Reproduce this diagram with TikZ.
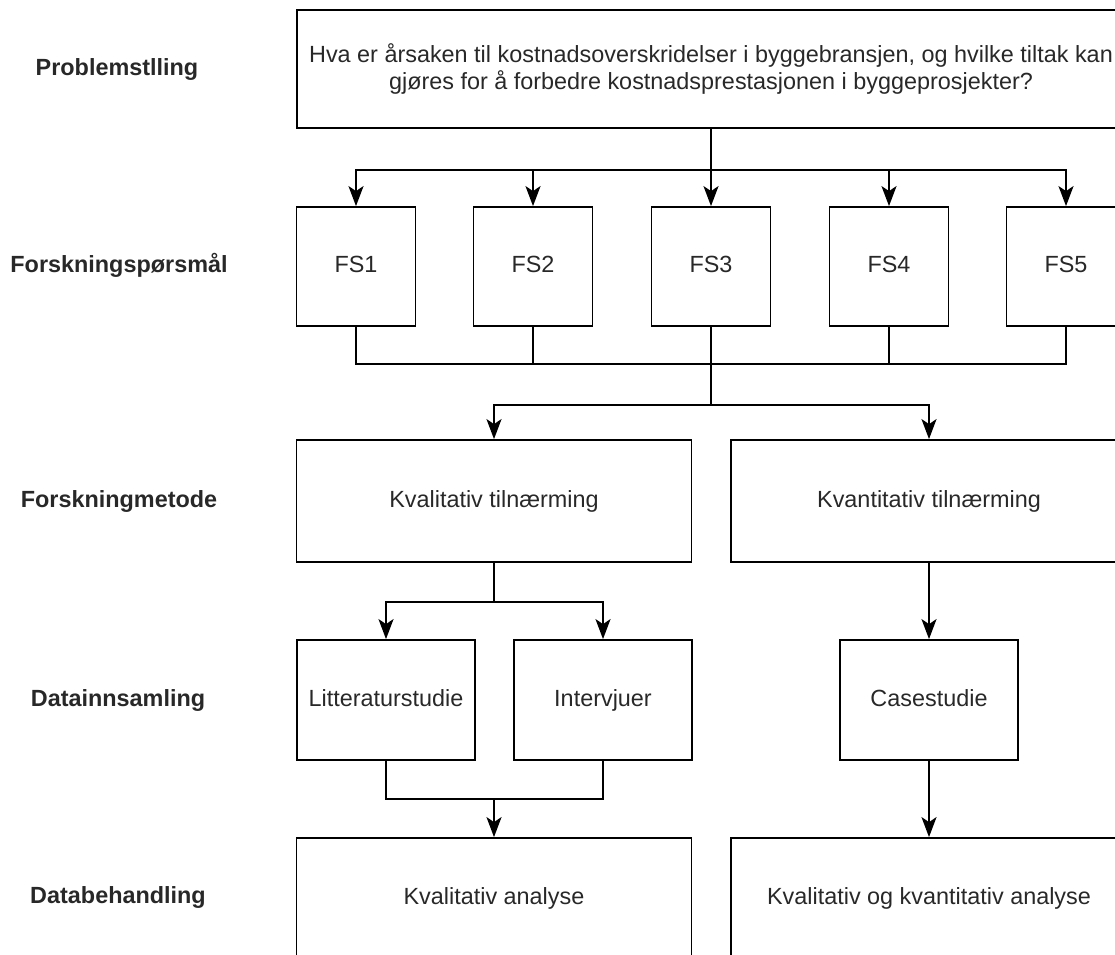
\documentclass[tikz,border=0pt]{standalone}
\usepackage{fontspec}
\setmainfont{Liberation Sans}
\usetikzlibrary{arrows.meta}
\definecolor{txt}{RGB}{40,40,40}
\begin{document}
\begin{tikzpicture}[x=1pt,y=-1pt,
  box/.style={draw=black,line width=1.8pt,rectangle,inner sep=0pt,align=center,
    text=txt,font=\fontsize{23.4}{27}\selectfont},
  onebox/.style={box,text height=17pt,text depth=5pt},
  lbl/.style={text=txt,font=\fontsize{23.4}{27}\selectfont\bfseries,inner sep=0pt,
    text height=17pt,text depth=5pt},
  wire/.style={line width=1.8pt,draw=black},
  arr/.style={wire,-{Stealth[length=20pt,width=15pt,inset=5pt]}}]
\useasboundingbox (0,0) rectangle (1115,954);
\clip (0,0) rectangle (1115,954);

% row labels
\node[lbl] (l1) at (117,69)  {Problemstlling};
\node[lbl] (l2) at (119,266.5) {Forskningspørsmål};
\node[lbl] (l3) at (119,501) {Forskningmetode};
\node[lbl] (l4) at (118,700) {Datainnsamling};
\node[lbl] (l5) at (118,897) {Databehandling};

% problem statement
\node[box,minimum width=828pt,minimum height=118pt] (q) at (711,69)
  {Hva er årsaken til kostnadsoverskridelser i byggebransjen, og hvilke tiltak kan\\
   gjøres for å forbedre kostnadsprestasjonen i byggeprosjekter?};

% research questions
\foreach \i/\x in {1/356,2/533,3/711,4/889,5/1066}
  \node[onebox,minimum width=119pt,minimum height=119pt] (fs\i) at (\x,266.5) {FS\i};

% methods
\node[onebox,minimum width=395pt,minimum height=122pt] (m1) at (494,501) {Kvalitativ tilnærming};
\node[onebox,minimum width=396pt,minimum height=122pt] (m2) at (929,501) {Kvantitativ tilnærming};

% data collection
\node[onebox,minimum width=178pt,minimum height=120pt] (lit) at (386,700) {Litteraturstudie};
\node[onebox,minimum width=178pt,minimum height=120pt] (intv) at (603,700) {Intervjuer};
\node[onebox,minimum width=178pt,minimum height=120pt] (cs) at (929,700) {Casestudie};

% data processing (boxes run past the lower edge)
\node[onebox,minimum width=395pt,minimum height=120pt] (a1) at (494,898) {Kvalitativ analyse};
\node[onebox,minimum width=396pt,minimum height=120pt] (a2) at (929,898) {Kvalitativ og kvantitativ analyse};

% connectors
\coordinate (bus1) at (711,170);
\coordinate (bus2) at (711,364);
\coordinate (bus3) at (711,405);
\coordinate (bus4) at (494,602);
\coordinate (bus5) at (494,799);

\foreach \i in {1,...,5} {
  \draw[arr] (q.south) -- (bus1) -| (fs\i.north);
  \draw[wire] (fs\i.south) |- (bus2);
}
\draw[arr] (bus2) -- (bus3) -| (m1.north);
\draw[arr] (bus2) -- (bus3) -| (m2.north);

\draw[arr] (m1.south) -- (bus4) -| (lit.north);
\draw[arr] (m1.south) -- (bus4) -| (intv.north);

\draw[wire] (lit.south) |- (bus5);
\draw[wire] (intv.south) |- (bus5);
\draw[arr] (bus5) -- (a1.north);

\draw[arr] (m2.south) -- (cs.north);
\draw[arr] (cs.south) -- (a2.north);
\end{tikzpicture}
\end{document}
